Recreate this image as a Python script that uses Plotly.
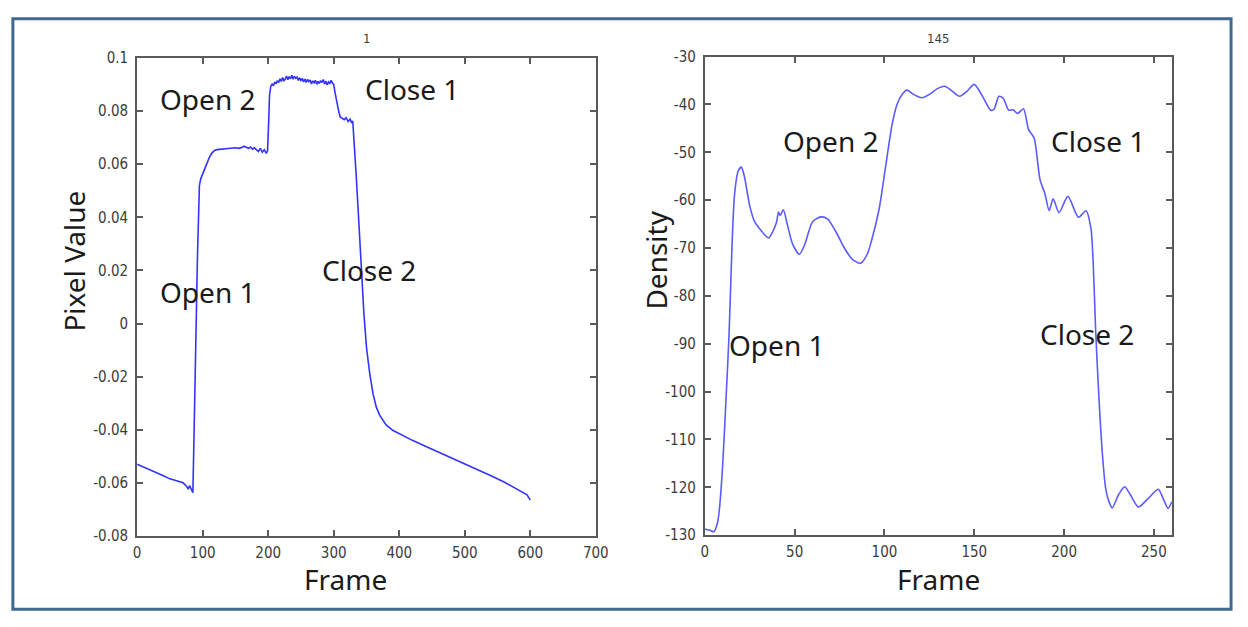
import plotly.graph_objects as go

# ---------------- data ----------------
# Left panel: mean pixel value per frame (region "1")
frames_1 = [0, 10, 20, 30, 40, 50, 60, 70, 75, 78, 80, 82, 84, 85, 86, 87, 88, 89, 90, 91,
            92, 93, 94, 95, 97, 100, 103, 106, 110, 114, 118, 122, 126, 130, 135, 140, 145, 150,
            155, 160, 163, 166, 170, 173, 176, 179, 182, 185, 188, 191, 194, 197, 199, 200, 201,
            202, 204, 206, 208, 210, 212, 214, 216, 218, 220, 222, 224, 226, 228, 230, 232, 234,
            236, 238, 240, 242, 244, 246, 248, 250, 252, 254, 256, 258, 260, 262, 264, 266, 268,
            270, 272, 274, 276, 278, 280, 282, 284, 286, 288, 290, 292, 294, 296, 298, 300, 302,
            304, 306, 308, 310, 313, 316, 319, 322, 325, 327, 329, 331, 334, 337, 340, 343, 346,
            350, 355, 360, 365, 370, 375, 380, 390, 400, 420, 440, 460, 480, 500, 520, 540, 560,
            575, 585, 590, 595, 600]
pixel_value = [-0.0530, -0.0540, -0.0552, -0.0563, -0.0573, -0.0585, -0.0593, -0.0600, -0.0612,
               -0.0624, -0.0610, -0.0620, -0.0632, -0.0637, -0.0520, -0.0360, -0.0200, -0.0050,
               0.0040, 0.0120, 0.0250, 0.0380, 0.0470, 0.0520, 0.0545, 0.0565, 0.0585, 0.0603,
               0.0625, 0.0642, 0.0652, 0.0655, 0.0656, 0.0658, 0.0657, 0.0660, 0.0659, 0.0662,
               0.0660, 0.0663, 0.0668, 0.0664, 0.0660, 0.0665, 0.0657, 0.0662, 0.0654, 0.0648,
               0.0660, 0.0645, 0.0655, 0.0641, 0.0650, 0.0700, 0.0780, 0.0860, 0.0895, 0.0902,
               0.0896, 0.0910, 0.0903, 0.0915, 0.0908, 0.0922, 0.0912, 0.0927, 0.0915, 0.0921,
               0.0932, 0.0918, 0.0930, 0.0922, 0.0935, 0.0920, 0.0931, 0.0924, 0.0928, 0.0916,
               0.0926, 0.0914, 0.0924, 0.0910, 0.0921, 0.0908, 0.0920, 0.0911, 0.0917, 0.0902,
               0.0914, 0.0907, 0.0916, 0.0901, 0.0912, 0.0904, 0.0915, 0.0908, 0.0919, 0.0902,
               0.0913, 0.0899, 0.0910, 0.0905, 0.0916, 0.0906, 0.0900, 0.0870, 0.0840, 0.0815,
               0.0795, 0.0778, 0.0772, 0.0768, 0.0775, 0.0761, 0.0770, 0.0758, 0.0763, 0.0700,
               0.0570, 0.0440, 0.0300, 0.0170, 0.0040, -0.0090, -0.0190, -0.0265, -0.0315,
               -0.0345, -0.0365, -0.0382, -0.0402, -0.0415, -0.0440, -0.0462, -0.0484, -0.0505,
               -0.0527, -0.0550, -0.0573, -0.0597, -0.0618, -0.0633, -0.0637, -0.0645, -0.0665]

# Right panel: density per frame (region "145")
frames_145 = [0, 3, 5, 7, 8, 10, 12, 13.5, 15, 16.5, 18.5, 20.3, 22, 25, 27.7, 30.4, 33.2, 35.6,
              37.8, 40, 41, 42, 43.7, 46, 49, 52.6, 55.4, 60, 64.6, 68.3, 73, 77.5, 82, 86.7,
              90.4, 93.2, 97, 100.6, 104.2, 107, 109.8, 112.5, 116.2, 120.8, 125.5, 129, 133.5,
              137, 141.8, 146, 150, 154.6, 159.1, 161, 163.7, 166.1, 169.2, 171.6, 174.1, 177.4,
              180.2, 183.3, 186.6, 189.3, 191.7, 193.9, 197.2, 202.1, 208, 212.2, 214.9, 216.2,
              217.6, 219.5, 221.3, 223.1, 225, 226.8, 230.4, 233.7, 236.8, 241.4, 246.9, 252.4,
              255.1, 257.9, 260]
density = [-128.7, -129.0, -129.3, -127.5, -125.0, -115.0, -100.0, -88.0, -71.0, -59.0, -54.0,
           -53.1, -55.0, -61.2, -64.5, -65.9, -67.2, -67.9, -66.6, -64.5, -62.5, -63.2, -62.0,
           -65.2, -69.3, -71.3, -69.5, -64.5, -63.5, -63.9, -66.6, -69.9, -72.3, -73.2, -71.3,
           -67.9, -61.9, -53.1, -44.3, -40.0, -37.9, -37.0, -37.9, -38.6, -37.8, -36.8, -36.2,
           -37.0, -38.3, -37.2, -35.8, -38.3, -41.2, -41.0, -38.3, -38.7, -41.2, -41.1, -41.9,
           -40.9, -45.2, -47.0, -55.7, -58.6, -62.2, -59.7, -62.6, -59.2, -63.6, -62.2, -65.8,
           -73.1, -87.5, -102.0, -112.9, -120.1, -123.0, -124.3, -121.5, -119.9, -121.5, -124.1,
           -122.3, -120.4, -122.3, -124.4, -123.0]

# Tick values and labels
x1_ticks = [0, 100, 200, 300, 400, 500, 600, 700]
y1_ticks = [-0.08, -0.06, -0.04, -0.02, 0, 0.02, 0.04, 0.06, 0.08, 0.1]
y1_labels = ["-0.08", "-0.06", "-0.04", "-0.02", "0", "0.02", "0.04", "0.06", "0.08", "0.1"]
x2_ticks = [0, 50, 100, 150, 200, 250]
y2_ticks = [-130, -120, -110, -100, -90, -80, -70, -60, -50, -40, -30]
y2_labels = ["-130", "-120", "-110", "-100", "-90", "-80", "-70", "-60", "-50", "-40", "-30"]

# ---------------- layout helpers ----------------
W, H = 1248, 627


def px(x):
    return x / W


def py(y):
    return 1 - y / H


TICK_FONT = dict(family="Liberation Sans Narrow, DejaVu Sans Condensed, Arial Narrow, sans-serif",
                 size=15, color="#3c3c3c")
LABEL_FONT = dict(family="Noto Sans, Open Sans, sans-serif", size=28, color="#1a1a1a")

axis_common = dict(showline=True, linecolor="#5a5a5a", linewidth=2, mirror="ticks",
                   ticks="inside", ticklen=6, tickwidth=1.5, tickcolor="#5a5a5a",
                   showgrid=False, zeroline=False, tickfont=TICK_FONT)

fig = go.Figure()
fig.add_trace(go.Scatter(x=frames_1, y=pixel_value, mode="lines",
                         line=dict(color="#3333ff", width=1.6),
                         xaxis="x", yaxis="y", showlegend=False))
fig.add_trace(go.Scatter(x=frames_145, y=density, mode="lines",
                         line=dict(color="#5b5bff", width=1.6, shape="spline", smoothing=0.7),
                         xaxis="x2", yaxis="y2", showlegend=False))

fig.update_layout(
    width=W, height=H,
    margin=dict(l=0, r=0, t=0, b=0),
    paper_bgcolor="white", plot_bgcolor="white",
    xaxis=dict(domain=[px(135), px(600)], range=[0, 700], tickvals=x1_ticks,
               anchor="y", ticklabelstandoff=2, **axis_common),
    yaxis=dict(domain=[py(542.5), py(50.5)], range=[-0.08, 0.1], tickvals=y1_ticks,
               ticktext=y1_labels, anchor="x", ticklabelstandoff=4, **axis_common),
    xaxis2=dict(domain=[px(710.5), px(1184)], range=[0, 260], tickvals=x2_ticks,
                anchor="y2", ticklabelstandoff=2, **axis_common),
    yaxis2=dict(domain=[py(541.7), py(49)], range=[-130, -30], tickvals=y2_ticks,
                ticktext=y2_labels, anchor="x2", ticklabelstandoff=4, **axis_common),
)

annotations = [
    # panel titles
    dict(text="1", x=px(367), y=py(30), font=dict(TICK_FONT, size=13)),
    dict(text="145", x=px(947), y=py(30), font=dict(TICK_FONT, size=13)),
    # axis titles
    dict(text="Frame", x=px(346), y=py(587), font=LABEL_FONT),
    dict(text="Frame", x=px(947), y=py(587), font=LABEL_FONT),
    dict(text="Pixel Value", x=px(70), y=py(260), textangle=-90, font=LABEL_FONT),
    dict(text="Density", x=px(661), y=py(258), textangle=-90, font=LABEL_FONT),
    # phase labels, left panel
    dict(text="Open 2", x=px(206), y=py(93), font=LABEL_FONT),
    dict(text="Close 1", x=px(414), y=py(82), font=LABEL_FONT),
    dict(text="Open 1", x=px(206), y=py(291), font=LABEL_FONT),
    dict(text="Close 2", x=px(370), y=py(269), font=LABEL_FONT),
    # phase labels, right panel
    dict(text="Open 2", x=px(838), y=py(136), font=LABEL_FONT),
    dict(text="Close 1", x=px(1109), y=py(136), font=LABEL_FONT),
    dict(text="Open 1", x=px(783), y=py(346), font=LABEL_FONT),
    dict(text="Close 2", x=px(1098), y=py(335), font=LABEL_FONT),
]
for a in annotations:
    a.update(xref="paper", yref="paper", showarrow=False, xanchor="center", yanchor="middle")
fig.update_layout(annotations=annotations)

# outer frame around both panels
fig.add_shape(type="rect", xref="paper", yref="paper",
              x0=px(9), x1=px(1244), y0=py(618), y1=py(10),
              line=dict(color="#41698f", width=3), fillcolor="rgba(0,0,0,0)", layer="above")

fig.write_html("out.html")
